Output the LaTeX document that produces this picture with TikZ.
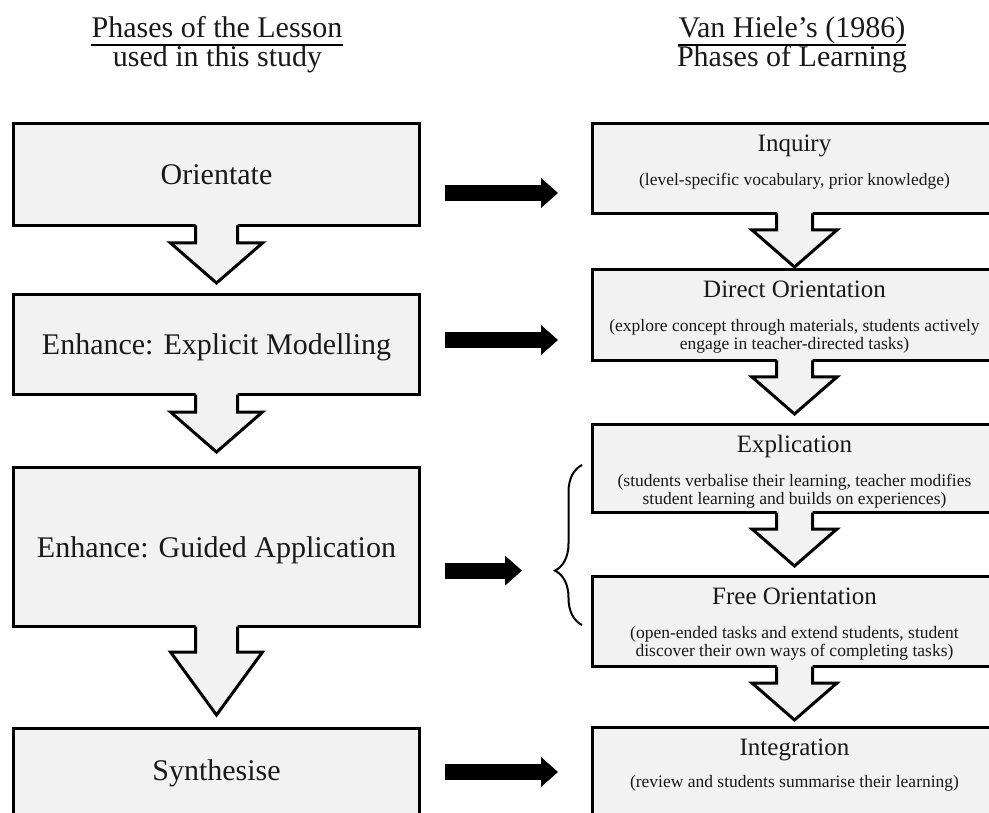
\documentclass[tikz,border=0pt]{standalone}
\usepackage{fontspec}
\setmainfont{Liberation Serif}
\usetikzlibrary{arrows.meta,decorations.pathreplacing}
\definecolor{boxgray}{HTML}{F2F2F2}
\begin{document}
\begin{tikzpicture}[x=1pt,y=-1pt,line join=miter,text=black!90]
\useasboundingbox (0,0) rectangle (989,813);
\clip (0,0) rectangle (989,813);
\def\lx{216.5}
\def\rx{794.5}
\tikzset{
lbox/.style={draw,line width=3pt,fill=boxgray,minimum width=406pt,inner sep=0pt,text height=20pt,text depth=0pt,font=\fontsize{30}{36}\selectfont},
ltxt/.style={inner sep=0pt,text height=20pt,text depth=0pt,font=\fontsize{30}{36}\selectfont},
rbox/.style={draw,line width=3pt,fill=boxgray,minimum width=404pt,inner sep=0pt,anchor=north},
ttl/.style={inner sep=0pt,anchor=base,text depth=7pt,font=\fontsize{30}{36}\selectfont},
rttl/.style={inner sep=0pt,text height=16.5pt,text depth=0pt,font=\fontsize{25}{30}\selectfont},
rsub/.style={inner sep=0pt,align=center,font=\fontsize{17.5}{18}\selectfont},
bigarr/.style={line width=16pt,-{Triangle[length=17pt,width=30pt,line width=0pt]},shorten <=24pt,shorten >=33pt},
pics/downarr/.style n args={4}{code={
\fill[boxgray] (-#1,-3) -- (-#1,#3) -- (-#2,#3) -- (0,{#3+#4}) -- (#2,#3) -- (#1,#3) -- (#1,-3) -- cycle;
\draw[line width=3pt] (-#1,-1.5) -- (-#1,#3) -- (-#2,#3) -- (0,{#3+#4}) -- (#2,#3) -- (#1,#3) -- (#1,-1.5);
}}
}
% headings
\node[ttl] (lt1) at (217,38) {Phases of the Lesson};
\node[ttl] (lt2) at (217.5,67) {used in this study};
\node[ttl] (rt1) at (792,38) {Van Hiele's (1986)};
\node[ttl] (rt2) at (792,67) {Phases of Learning};
\draw[line width=2pt] (lt1.south west) -- (lt1.south east);
\draw[line width=2pt] (rt1.south west) -- (rt1.south east);
% lesson phases
\node[lbox,minimum height=102pt] (orient) at (\lx,174.5) {Orientate};
\node[lbox,minimum height=100pt] (explicit) at (\lx,344.5) {Enhance: Explicit Modelling};
\node[lbox,minimum height=159pt] (guided) at (\lx,547) {Enhance: Guided Application};
\node[lbox,minimum height=120pt,anchor=north] (synth) at (\lx,727) {};
\node[ltxt] (synthtxt) at ([yshift=-43pt]synth.north) {Synthesise};
\pic at (orient.south) {downarr={21}{46}{16}{40}};
\pic at (explicit.south) {downarr={21}{46}{16}{40}};
\pic at (guided.south) {downarr={21}{46}{24}{63}};
% van hiele phases
\foreach \nm/\tp/\hh/\ttl/\sub/\off in {
inq/122/90/Inquiry/{(level-specific vocabulary, prior knowledge)}/59,
dir/268/91/Direct Orientation/{(explore concept through materials, students actively\\engage in teacher-directed tasks)}/68,
expl/423/88/Explication/{(students verbalise their learning, teacher modifies\\student learning and builds on experiences)}/68,
free/575/90/Free Orientation/{(open-ended tasks and extend students, student\\discover their own ways of completing tasks)}/68,
integ/726/120/Integration/{(review and students summarise their learning)}/57}{
\node[rbox,minimum height=\hh pt] (\nm) at (\rx,\tp) {};
\node[rttl] (\nm-t) at ([yshift=-21pt]\nm.north) {\ttl};
\node[rsub] (\nm-s) at ([yshift=-\off pt]\nm.north) {\sub};
}
\foreach \nm in {inq,dir,expl,free}{
\pic at (\nm.south) {downarr={18}{42.5}{15}{37}};
}
% brace and links
\coordinate (bracetip) at (555,570.6);
\draw[line width=2pt,decorate,decoration={brace,amplitude=27pt,aspect=0.34}] (582,625) -- (582,465);
\coordinate (a1) at ([yshift=-18.5pt]orient.east);
\coordinate (a2) at ([yshift=4.5pt]explicit.east);
\coordinate (a3) at (guided.east |- bracetip);
\coordinate (a4) at ([yshift=-45pt]synth.north east);
\draw[bigarr] (a1) -- (a1 -| inq.west);
\draw[bigarr] (a2) -- (a2 -| dir.west);
\draw[bigarr] (a3) -- (bracetip);
\draw[bigarr] (a4) -- (a4 -| integ.west);
\end{tikzpicture}
\end{document}
